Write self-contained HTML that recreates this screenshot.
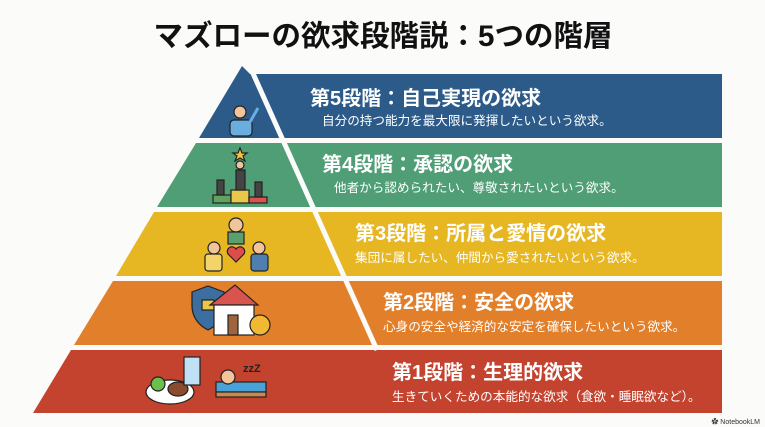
<!DOCTYPE html>
<html><head><meta charset="utf-8"><style>
html,body{margin:0;padding:0;background:#fbfbf9;}
svg{display:block;}
text{font-family:"Liberation Sans","Noto Sans CJK JP",sans-serif;}
.t{fill:#fff;font-weight:bold;font-size:20px;}
.s{fill:#fff;font-size:12.6px;}
</style></head><body>
<svg width="765" height="427" viewBox="0 0 765 427">
<rect width="765" height="427" fill="#fbfbf9"/>
<text x="383" y="46" text-anchor="middle" font-size="29.5" font-weight="bold" fill="#111">マズローの欲求段階説：5つの階層</text>
<polygon points="242,66 250,74 722,74 722,138 199,138" fill="#2c5b8a"/>
<polygon points="196,143 722,143 722,207 157,207" fill="#4f9e76"/>
<polygon points="154,212 722,212 722,276 116,276" fill="#e6b722"/>
<polygon points="113,281 722,281 722,345 74,345" fill="#e27f2b"/>
<polygon points="71,350 722,350 722,413 33,413" fill="#c4432f"/>
<line x1="247" y1="60" x2="377" y2="350" stroke="#fbfbf9" stroke-width="5"/>
<text class="t" x="310" y="105">第5段階：自己実現の欲求</text>
<text class="s" x="322" y="125">自分の持つ能力を最大限に発揮したいという欲求。</text>
<text class="t" x="322" y="171">第4段階：承認の欲求</text>
<text class="s" x="334" y="192">他者から認められたい、尊敬されたいという欲求。</text>
<text class="t" x="355" y="240">第3段階：所属と愛情の欲求</text>
<text class="s" x="355" y="262">集団に属したい、仲間から愛されたいという欲求。</text>
<text class="t" x="383" y="309">第2段階：安全の欲求</text>
<text class="s" x="383" y="331">心身の安全や経済的な安定を確保したいという欲求。</text>
<text class="t" x="392" y="379">第1段階：生理的欲求</text>
<text class="s" x="392" y="401">生きていくための本能的な欲求（食欲・睡眠欲など）。</text>
<text x="760" y="424" text-anchor="end" font-size="7" fill="#333">✿ NotebookLM</text>
<g stroke="#222" stroke-width="1.2">
<rect x="230" y="120" width="22" height="16" rx="4" fill="#6aaee0"/>
<circle cx="240" cy="112" r="6" fill="#f2c49a"/>
<line x1="250" y1="122" x2="258" y2="108" stroke-width="3" stroke="#6aaee0"/>
<rect x="213" y="195" width="18" height="8" fill="#5fa35f"/>
<rect x="231" y="190" width="18" height="13" fill="#e8c74a"/>
<rect x="249" y="197" width="18" height="6" fill="#d9534f"/>
<rect x="236" y="170" width="9" height="20" fill="#444"/>
<circle cx="240" cy="165" r="4" fill="#f2c49a"/>
<rect x="217" y="180" width="7" height="15" fill="#444"/>
<rect x="255" y="182" width="7" height="15" fill="#444"/>
<polygon points="240,148 242,153 247,153 243,156 245,161 240,158 235,161 237,156 233,153 238,153" fill="#f4c542"/>
<circle cx="236" cy="225" r="7" fill="#f2c49a"/>
<rect x="228" y="232" width="16" height="12" fill="#5aa06e"/>
<circle cx="214" cy="248" r="6" fill="#f2c49a"/>
<rect x="205" y="254" width="17" height="17" rx="3" fill="#f4d46a"/>
<circle cx="259" cy="248" r="6" fill="#f2c49a"/>
<rect x="251" y="254" width="17" height="17" rx="3" fill="#4f7fb0"/>
<path d="M236 262 l-8 -8 a4.5 4.5 0 0 1 8 -5 a4.5 4.5 0 0 1 8 5z" fill="#e04b4b"/>
<path d="M192 292 l16 -6 l16 6 v14 c0 12 -8 20 -16 24 c-8 -4 -16 -12 -16 -24z" fill="#3c6ea0"/>
<rect x="202" y="300" width="12" height="10" fill="#e8c74a"/>
<polygon points="210,305 235,285 258,305" fill="#d9534f"/>
<rect x="214" y="305" width="40" height="30" fill="#fff"/>
<rect x="228" y="315" width="10" height="20" fill="#a0643c"/>
<circle cx="260" cy="325" r="10" fill="#f2b733"/>
<ellipse cx="170" cy="392" rx="24" ry="12" fill="#fff"/>
<circle cx="158" cy="384" r="7" fill="#6cbf4a"/>
<ellipse cx="178" cy="389" rx="10" ry="7" fill="#8a4b2e"/>
<rect x="184" y="357" width="16" height="28" fill="#bfe0f5"/>
<rect x="216" y="382" width="50" height="10" fill="#4aa3d8"/>
<rect x="216" y="392" width="50" height="5" fill="#c98a4c"/>
<circle cx="228" cy="377" r="7" fill="#f2c49a"/>
</g>
<text x="243" y="372" font-size="11" font-weight="bold" fill="#222">zzZ</text>
</svg>
</body></html>
